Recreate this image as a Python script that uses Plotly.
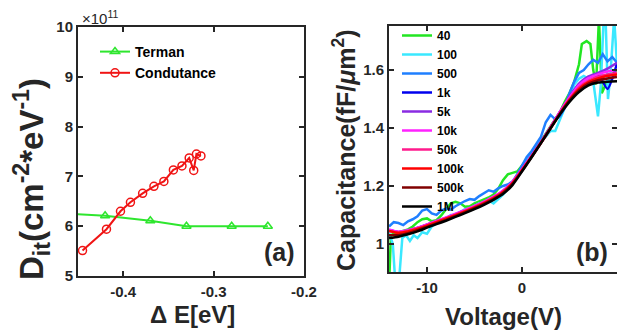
import plotly.graph_objects as go

# ---------------- Panel (a) data ----------------
terman_E = [-0.47, -0.42, -0.37, -0.33, -0.28, -0.24]
terman_D = [6.26, 6.21, 6.11, 6.00, 6.00, 6.00]          # x 1e11 cm^-2 eV^-1

cond_E = [-0.445, -0.4185, -0.403, -0.392, -0.3785, -0.366, -0.355,
          -0.3445, -0.335, -0.327, -0.322, -0.319, -0.314]
cond_D = [5.51, 5.94, 6.30, 6.48, 6.66, 6.80, 6.90, 7.13, 7.21, 7.37, 7.12, 7.45, 7.41]

# ---------------- Panel (b) data ----------------
V1 = [-14, -13, -12, -11, -10, -9, -8, -7, -6, -5, -4, -3, -2, -1, 0,
      1, 2, 3, 4, 5, 6, 7, 8, 9, 10]
c_1k = [1.047, 1.040, 1.046, 1.055, 1.066, 1.078, 1.090, 1.102, 1.115, 1.129, 1.144, 1.161,
        1.182, 1.213, 1.257, 1.304, 1.352, 1.402, 1.455, 1.505, 1.550, 1.574, 1.585, 1.535, 1.622]
c_5k = [1.048, 1.041, 1.046, 1.055, 1.066, 1.078, 1.090, 1.103, 1.116, 1.130, 1.145, 1.162,
        1.183, 1.214, 1.257, 1.303, 1.351, 1.402, 1.456, 1.508, 1.553, 1.578, 1.590, 1.605, 1.625]
c_10k = [1.050, 1.042, 1.047, 1.056, 1.067, 1.079, 1.091, 1.104, 1.117, 1.131, 1.146, 1.163,
         1.184, 1.215, 1.258, 1.304, 1.352, 1.403, 1.456, 1.505, 1.548, 1.572, 1.585, 1.595, 1.600]
c_50k = [1.045, 1.040, 1.045, 1.054, 1.065, 1.077, 1.089, 1.101, 1.114, 1.128, 1.143, 1.160,
         1.181, 1.212, 1.256, 1.302, 1.350, 1.400, 1.452, 1.500, 1.540, 1.563, 1.577, 1.585, 1.590]
c_100k = [1.045, 1.038, 1.043, 1.052, 1.063, 1.075, 1.087, 1.099, 1.112, 1.126, 1.141, 1.158,
          1.179, 1.210, 1.254, 1.300, 1.348, 1.398, 1.450, 1.497, 1.535, 1.558, 1.571, 1.580, 1.585]
c_500k = [1.030, 1.030, 1.037, 1.047, 1.059, 1.071, 1.083, 1.096, 1.109, 1.123, 1.138, 1.155,
          1.176, 1.207, 1.252, 1.300, 1.350, 1.400, 1.450, 1.495, 1.530, 1.553, 1.565, 1.571, 1.576]
c_1M = [1.020, 1.025, 1.033, 1.043, 1.056, 1.068, 1.080, 1.093, 1.106, 1.120, 1.135, 1.152,
        1.172, 1.203, 1.250, 1.298, 1.348, 1.398, 1.447, 1.490, 1.524, 1.547, 1.557, 1.560, 1.561]

v_40 = [-14, -13.8, -13.5, -13, -12.5, -12, -11.5, -11, -10.5, -10, -9.5, -9, -8.5, -8, -7.5,
        -7, -6.5, -6, -5.5, -5, -4.5, -4, -3.5, -3, -2.5, -2, -1.5, -1, -0.5, 0, 0.5, 1, 1.5,
        2, 2.5, 3, 3.5, 4, 4.5, 5, 5.5, 6, 6.3, 6.8, 7.2, 7.5, 7.8, 8.1, 8.4, 8.8, 9.3, 10]
c_40 = [0.85, 1.03, 1.035, 1.04, 1.045, 1.05, 1.06, 1.075, 1.085, 1.088, 1.078, 1.082, 1.098,
        1.12, 1.14, 1.145, 1.14, 1.128, 1.13, 1.14, 1.146, 1.152, 1.16, 1.17, 1.19, 1.22, 1.24,
        1.245, 1.25, 1.27, 1.29, 1.31, 1.33, 1.355, 1.38, 1.405, 1.43, 1.455, 1.49, 1.52, 1.56,
        1.62, 1.69, 1.70, 1.69, 1.60, 1.55, 1.78, 1.52, 1.55, 1.58, 1.60]

v_100 = [-14, -13.6, -13.3, -13.0, -12.6, -12.2, -11.8, -11.4, -11, -10.5, -10, -9.5, -9, -8.5,
         -8, -7.5, -7, -6.5, -6, -5.5, -5, -4.5, -4, -3.5, -3, -2.5, -2, -1.5, -1, -0.5, 0, 0.5,
         1, 1.5, 2, 2.5, 3, 3.5, 4, 4.5, 5, 5.5, 6, 6.5, 7, 7.5, 8.0, 8.3, 8.6, 8.8, 9.05, 9.3,
         9.7, 10]
c_100 = [1.04, 1.00, 0.85, 0.85, 1.02, 1.03, 1.01, 1.03, 1.02, 1.04, 1.035, 1.06, 1.07, 1.08,
         1.085, 1.10, 1.10, 1.11, 1.12, 1.115, 1.13, 1.14, 1.14, 1.15, 1.14, 1.155, 1.17, 1.19,
         1.21, 1.24, 1.26, 1.29, 1.31, 1.34, 1.36, 1.37, 1.39, 1.39, 1.43, 1.47, 1.50, 1.55, 1.57,
         1.58, 1.57, 1.56, 1.44, 1.55, 1.78, 1.78, 1.50, 1.58, 1.78, 1.62]

v_500 = [-14, -13.5, -13, -12.5, -12, -11.5, -11, -10.5, -10, -9.5, -9, -8.5, -8, -7.5, -7, -6.5,
         -6, -5.5, -5, -4.5, -4, -3.5, -3, -2.5, -2, -1.5, -1, -0.5, 0, 0.5, 1, 1.5, 2, 2.5, 3,
         3.5, 4, 4.5, 5, 5.5, 6, 6.5, 7, 7.5, 8, 8.5, 9, 9.5, 10]
c_500 = [1.060, 1.075, 1.072, 1.065, 1.078, 1.085, 1.095, 1.115, 1.120, 1.105, 1.100, 1.115,
         1.122, 1.118, 1.130, 1.140, 1.148, 1.155, 1.152, 1.165, 1.175, 1.185, 1.180, 1.192,
         1.200, 1.205, 1.215, 1.240, 1.270, 1.300, 1.320, 1.345, 1.370, 1.420, 1.445, 1.430,
         1.440, 1.470, 1.520, 1.560, 1.590, 1.600, 1.620, 1.635, 1.625, 1.655, 1.630, 1.645, 1.625]

freq_labels = ["40", "100", "500", "1k", "5k", "10k", "50k", "100k", "500k", "1M"]
freq_x = [v_40, v_100, v_500, V1, V1, V1, V1, V1, V1, V1]
freq_y = [c_40, c_100, c_500, c_1k, c_5k, c_10k, c_50k, c_100k, c_500k, c_1M]
freq_colors = ["#22e622", "#3ae8ff", "#1f7fff", "#0000ee", "#8a2be2", "#ff22ff",
               "#ff1a8c", "#ff0000", "#800000", "#000000"]

# page body has an 8px margin: the figure is sized to the visible part of the window
OFF = 8
W, H = 625 - OFF, 335 - OFF
FONT = "Liberation Sans"
AX = "#262626"

def px_x(p):
    return (p - OFF) / W

def px_y(p):
    return 1 - (p - OFF) / H

fig = go.Figure()

fig.add_trace(go.Scatter(x=terman_E, y=terman_D, mode="lines+markers", name="Terman",
                         line=dict(color="#2ee62e", width=2),
                         marker=dict(symbol="triangle-up-open", size=8, color="#2ee62e",
                                     line=dict(width=1.5)),
                         xaxis="x", yaxis="y", legend="legend"))
fig.add_trace(go.Scatter(x=cond_E, y=cond_D, mode="lines+markers", name="Condutance",
                         line=dict(color="#f01414", width=2),
                         marker=dict(symbol="circle-open", size=8, color="#f01414",
                                     line=dict(width=1.5)),
                         xaxis="x", yaxis="y", legend="legend"))

for lab, xs, ys, col in zip(freq_labels, freq_x, freq_y, freq_colors):
    smooth = xs is V1
    fig.add_trace(go.Scatter(x=xs, y=ys, mode="lines", name=lab,
                             line=dict(color=col, width=2.5,
                                       shape="spline" if smooth else "linear",
                                       smoothing=0.6 if smooth else None),
                             xaxis="x2", yaxis="y2", legend="legend2"))

axis_common = dict(showline=True, linewidth=2, linecolor=AX, mirror="allticks",
                   ticks="inside", ticklen=5, tickwidth=2, tickcolor=AX,
                   showgrid=False, zeroline=False, automargin=False,
                   tickfont=dict(family=FONT, size=15, color=AX, weight="bold"))

fig.update_layout(
    width=W, height=H, margin=dict(l=0, r=0, t=0, b=0, autoexpand=False),
    paper_bgcolor="white", plot_bgcolor="white",
    xaxis=dict(domain=[px_x(78), px_x(304)], range=[-0.45, -0.2],
               tickvals=[-0.4, -0.3, -0.2], ticktext=["-0.4", "-0.3", "-0.2"],
               anchor="y", ticklabelstandoff=1, **axis_common),
    yaxis=dict(domain=[px_y(276), px_y(27)], range=[5, 10],
               tickvals=[5, 6, 7, 8, 9, 10], anchor="x", **axis_common),
    xaxis2=dict(domain=[px_x(389), px_x(617)], range=[-14, 10],
                tickvals=[-10, 0, 10], ticktext=["-10", "0", "10"],
                anchor="y2", ticklabelstandoff=1, **axis_common),
    yaxis2=dict(domain=[px_y(272), px_y(26)], range=[0.903, 1.752],
                tickvals=[1, 1.2, 1.4, 1.6], ticktext=["1", "1.2", "1.4", "1.6"],
                anchor="x2", **axis_common),
    legend=dict(x=px_x(95), y=px_y(36), xanchor="left", yanchor="top",
                bgcolor="rgba(0,0,0,0)", borderwidth=0, tracegroupgap=0,
                font=dict(family=FONT, size=14, color="black", weight="bold")),
    legend2=dict(x=px_x(397), y=px_y(21), xanchor="left", yanchor="top",
                 bgcolor="rgba(0,0,0,0)", borderwidth=0, tracegroupgap=0,
                 font=dict(family=FONT, size=12, color="black", weight="bold")),
    showlegend=True,
)

ann_font = dict(family=FONT, color=AX, weight="bold")

def ann(xp, yp, text, size, angle=0, bold=True, xanchor="center"):
    f = dict(size=size, **ann_font) if bold else dict(family=FONT, size=size, color=AX)
    fig.add_annotation(x=px_x(xp), y=px_y(yp), xref="paper", yref="paper",
                       xanchor=xanchor, yanchor="middle", text=text, textangle=angle,
                       showarrow=False, font=f)

ann(31, 179, "D<sub>it</sub>(cm<sup>-2</sup>*eV<sup>-1</sup>)", 33, angle=-90)
ann(192, 314, "Δ E[eV]", 24)
ann(344, 150, "Capacitance(fF/<i>μ</i>m<sup>2</sup>)", 25, angle=-90)
ann(503, 316, "Voltage(V)", 24)
ann(279, 252, "(a)", 25)
ann(592, 252, "(b)", 25)
ann(80, 18, "×10<sup>11</sup>", 15, bold=False, xanchor="left")

fig.write_html("out.html")
